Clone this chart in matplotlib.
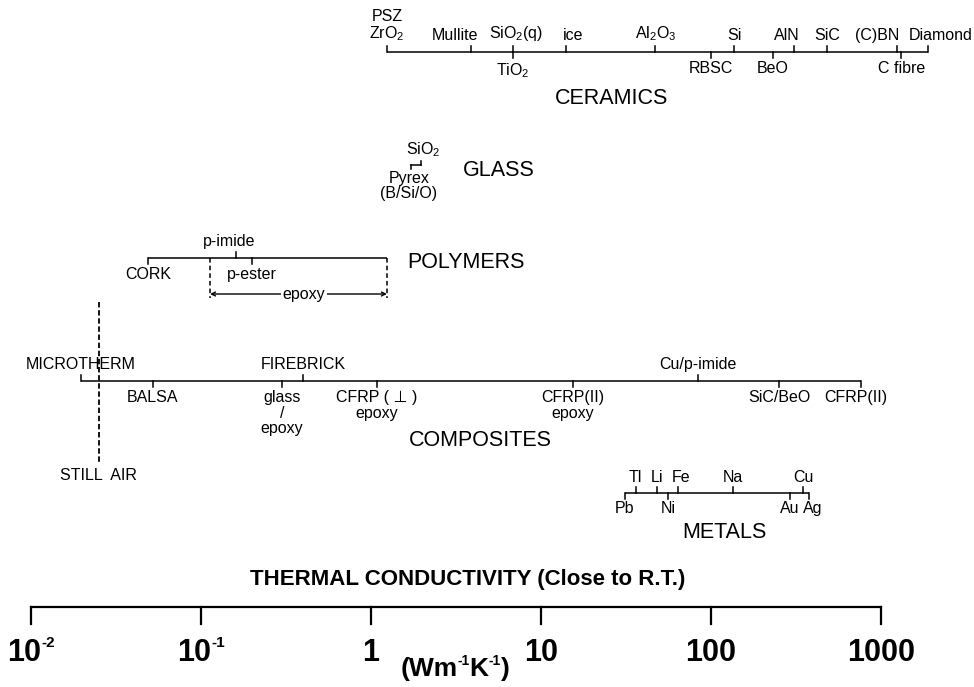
import matplotlib
matplotlib.use("Agg")
import matplotlib.pyplot as plt
from matplotlib.transforms import IdentityTransform

plt.rcParams['font.family'] = ['Liberation Sans', 'DejaVu Sans']
plt.rcParams['mathtext.default'] = 'regular'

# thermal conductivity values (W/mK)
ceramic_names = ["PSZ\nZrO$_2$", "Mullite", "SiO$_2$(q)", "TiO$_2$", "ice", "Al$_2$O$_3$",
                 "RBSC", "Si", "BeO", "AlN", "SiC", "(C)BN", "C fibre", "Diamond"]
ceramic_k = [1.24, 3.9, 6.8, 6.8, 14, 47, 100, 137, 232, 308, 480, 1240, 1320, 1900]
ceramic_side = ["up", "up", "up", "down", "up", "up", "down", "up", "down", "up", "up", "up", "down", "up"]

glass_names = ["SiO$_2$", "Pyrex\n(B/Si/O)"]
glass_k = [1.97, 1.72]

polymer_names = ["CORK", "p-imide", "p-ester"]
polymer_k = [0.049, 0.16, 0.20]
polymer_side = ["down", "up", "down"]
epoxy_range = [0.113, 1.24]

composite_names = ["MICROTHERM", "BALSA", "glass\n/\nepoxy", "FIREBRICK", "CFRP ( ⊥ )\nepoxy",
                   "CFRP(II)\nepoxy", "Cu/p-imide", "SiC/BeO", "CFRP(II)"]
composite_k = [0.0197, 0.052, 0.30, 0.40, 1.08, 15.4, 84, 252, 765]
composite_side = ["up", "down", "down", "up", "down", "down", "up", "down", "down"]
still_air_k = 0.025

metal_names = ["Pb", "Tl", "Li", "Ni", "Fe", "Na", "Au", "Cu", "Ag"]
metal_k = [31, 36, 48, 56, 64, 135, 292, 348, 377]
metal_side = ["down", "up", "up", "down", "up", "up", "down", "up", "down"]

axis_ticks = [0.01, 0.1, 1, 10, 100, 1000]
axis_base = ["10", "10", "1", "10", "100", "1000"]
axis_exp = ["-2", "-1", "", "", "", ""]

# layout: pixel rows, 170 px per decade, k=1 at x=371
W, H = 974, 687
X1, DEC = 371, 170
label_shift = {"Mullite": -16, "SiO$_2$(q)": 4, "ice": 7, "AlN": -7, "(C)BN": -20,
               "Diamond": 12, "p-imide": -7, "Fe": 3, "Ag": 4, "CFRP(II)": -5}

fig = plt.figure(figsize=(W / 100, H / 100), dpi=100)
ax = fig.add_axes([0, 0, 1, 1])
ax.set_xscale("log")
ax.set_xlim(10 ** (-X1 / DEC), 10 ** ((W - X1) / DEC))
ax.set_ylim(H, 0)
ax.axis("off")
renderer = fig.canvas.get_renderer()


def shifted(k, dx):
    return k * 10 ** (dx / DEC)


def row(names, ks, sides, y, lo=None, hi=None, tick=6, size=11.5, gap=3):
    lo = min(ks) if lo is None else lo
    hi = max(ks) if hi is None else hi
    ax.plot([lo, hi], [y, y], color="black", lw=1.1, solid_capstyle="butt")
    for name, k, side in zip(names, ks, sides):
        x = shifted(k, label_shift.get(name, 0))
        if side == "up":
            ax.plot([k, k], [y, y - tick], color="black", lw=1.1)
            ax.text(x, y - tick - gap, name, ha="center", va="bottom", fontsize=size,
                    linespacing=1.0)
        else:
            ax.plot([k, k], [y, y + tick], color="black", lw=1.1)
            ax.text(x, y + tick + gap, name, ha="center", va="top", fontsize=size,
                    linespacing=1.05)


def pieces_text(cx, base_row, parts):
    # parts: (text, fontsize, raise in px); laid out left to right in pixel space
    arts, widths = [], []
    for s, fs, dy in parts:
        t = fig.text(0, 0, s, fontsize=fs, fontweight="bold", ha="left", va="baseline",
                     transform=IdentityTransform())
        arts.append(t)
        widths.append(t.get_window_extent(renderer).width)
    x = cx - sum(widths) / 2
    for t, w, (s, fs, dy) in zip(arts, widths, parts):
        t.set_position((x, H - base_row + dy))
        x += w


# ceramics
row(ceramic_names, ceramic_k, ceramic_side, 52)
ax.text(shifted(1, 612 - X1), 98, "CERAMICS", ha="center", va="center", fontsize=15.5)

# glass
yg = 165
ax.plot([glass_k[1], glass_k[0]], [yg, yg], color="black", lw=1.1)
ax.plot([glass_k[0], glass_k[0]], [yg, yg - 4], color="black", lw=1.1)
ax.plot([glass_k[1], glass_k[1]], [yg, yg + 4], color="black", lw=1.1)
ax.text(shifted(glass_k[0], 2), yg - 6, glass_names[0], ha="center", va="bottom", fontsize=11.5)
ax.text(shifted(glass_k[1], -2), yg + 6, glass_names[1], ha="center", va="top", fontsize=11.5,
        linespacing=1.0)
ax.text(shifted(1, 499 - X1), 170, "GLASS", ha="center", va="center", fontsize=15.5)

# polymers
yp = 258
row(polymer_names, polymer_k, polymer_side, yp, hi=epoxy_range[1])
for k in epoxy_range:
    ax.plot([k, k], [yp, yp + 40], color="black", lw=1.1, ls=(0, (3, 2)))
ax.annotate("", xy=(epoxy_range[0], yp + 36), xytext=(epoxy_range[1], yp + 36),
            arrowprops=dict(arrowstyle="<->", lw=1.0, shrinkA=0, shrinkB=0,
                            mutation_scale=7))
ax.text(shifted(1, 304 - X1), yp + 36, "epoxy", ha="center", va="center", fontsize=11.5,
        bbox=dict(facecolor="white", edgecolor="none", pad=1))
ax.text(shifted(1, 466 - X1), 262, "POLYMERS", ha="center", va="center", fontsize=15.5)

# composites
yc = 381
row(composite_names, composite_k, composite_side, yc)
ax.plot([still_air_k, still_air_k], [302, 463], color="black", lw=1.3, ls=(0, (3, 1.5)))
ax.text(still_air_k, 475, "STILL  AIR", ha="center", va="center", fontsize=11.5)
ax.text(shifted(1, 480 - X1), 441, "COMPOSITES", ha="center", va="center", fontsize=15.5)

# metals
ym = 493
row(metal_names, metal_k, metal_side, ym, gap=2)
ax.text(shifted(1, 724 - X1), 532, "METALS", ha="center", va="center", fontsize=15.5)

# conductivity scale
ya = 607
ax.plot([axis_ticks[0], axis_ticks[-1]], [ya, ya], color="black", lw=1.6)
for k, base, ex in zip(axis_ticks, axis_base, axis_exp):
    ax.plot([k, k], [ya, ya + 17], color="black", lw=1.6)
    tick_px = ax.transData.transform((k, ya))[0]
    parts = [(base, 22, 0)] + ([(ex, 11, 14)] if ex else [])
    pieces_text(tick_px, 661, parts)

ax.text(shifted(1, 468 - X1), 580, "THERMAL CONDUCTIVITY (Close to R.T.)", ha="center",
        va="center", fontsize=16, fontweight="bold")
pieces_text(455, 676, [("(Wm", 19, 0), ("-1", 10, 11), ("K", 19, 0), ("-1", 10, 11), (")", 19, 0)])

fig.savefig("out.png", dpi=100)
